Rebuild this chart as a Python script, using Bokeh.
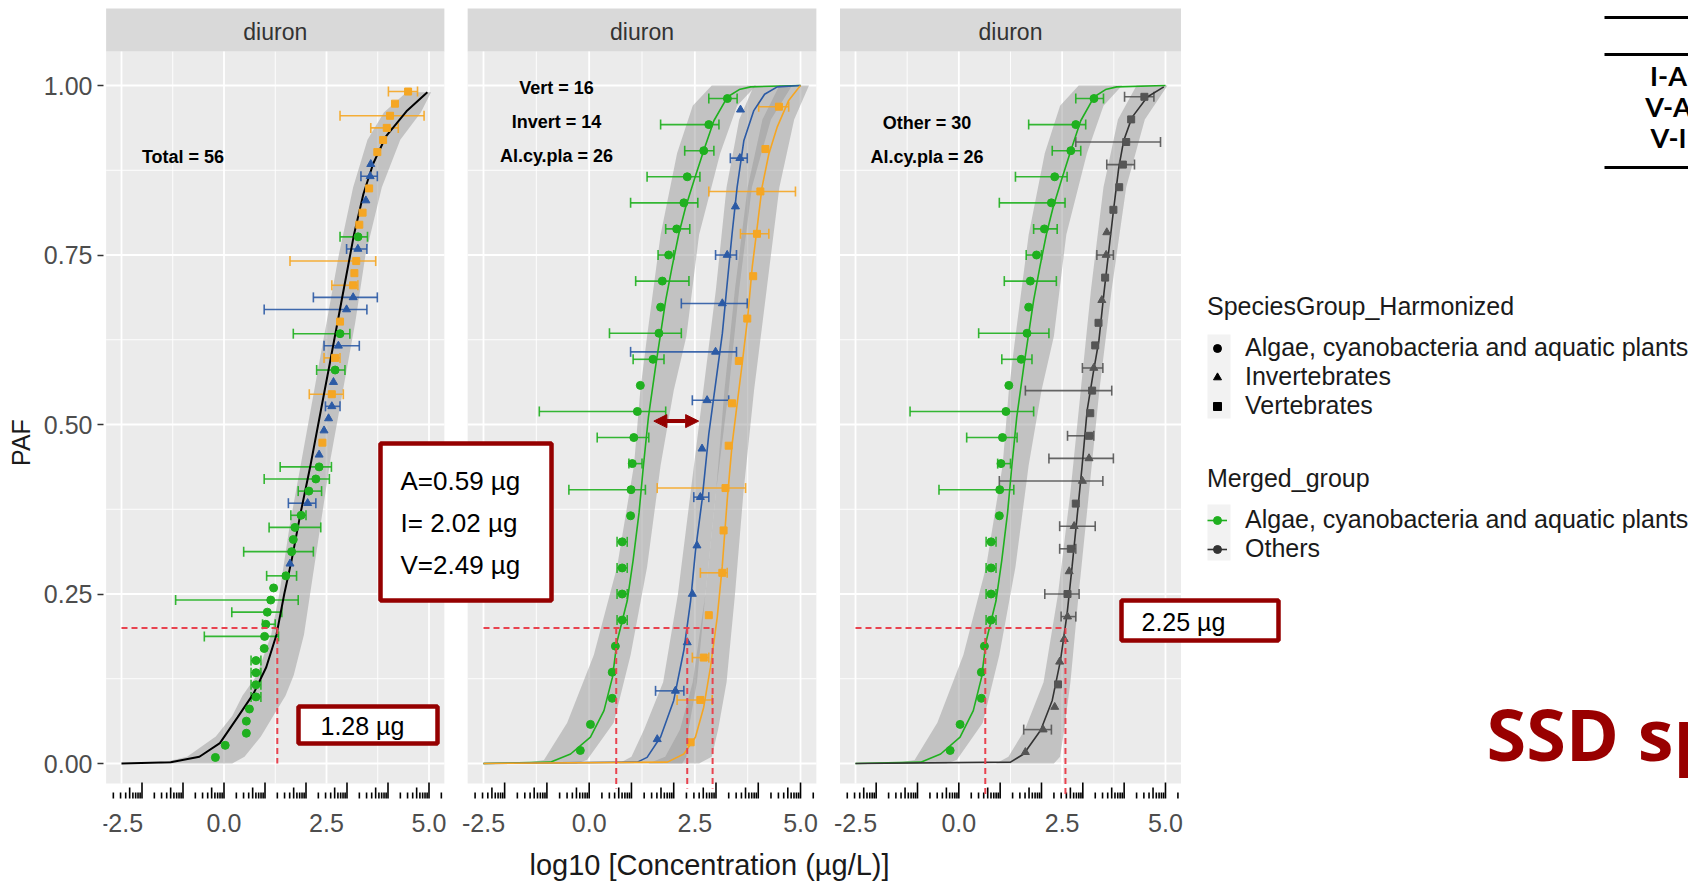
import numpy as np
from bokeh.plotting import figure
from bokeh.models import (Range1d, FixedTicker, NumeralTickFormatter, Legend,
                          LegendItem, Arrow, NormalHead)
from bokeh.embed import file_html
from bokeh.resources import INLINE
from bokeh.core.properties import value

# ------------------------------------------------------------------ data
x_ticks = [-2.5, 0.0, 2.5, 5.0]
x_tick_labels = ["-2.5", "0.0", "2.5", "5.0"]
y_ticks = [0.0, 0.25, 0.5, 0.75, 1.0]
strip_label = "diuron"

# log10 toxicity values (ug/L) with horizontal error bars (None = no bar)
algae_x = [-0.21, 0.03, 0.545, 0.545, 0.62, 0.78, 0.78, 0.78, 0.78, 0.98, 0.99, 1.02, 1.056,
           1.14, 1.21, 1.51, 1.65, 1.69, 1.73, 1.88, 2.07, 2.24, 2.32, 2.71, 2.83, 3.27]
algae_lo = [None, None, None, None, None, 0.66, 0.66, 0.66, 0.66, None, -0.48, 0.94, 0.19,
            -1.18, None, 1.04, 0.48, None, 1.10, 1.63, 1.81, 0.98, 1.37, 2.26, 1.69, 2.83]
algae_hi = [None, None, None, None, None, 0.90, 0.90, 0.90, 0.90, None, 1.33, 1.25, 1.41,
            1.81, None, 1.77, 2.18, None, 2.36, 2.00, 2.38, 2.57, 2.62, 2.95, 3.07, 3.50]

invert_x = [1.61, 2.04, 2.32, 2.44, 2.55, 2.63, 2.67, 2.79, 2.99, 3.15, 3.265, 3.46, 3.565, 3.58]
invert_lo = [None, 1.57, None, None, None, 2.475, None, 2.44, 0.98, 2.18, 2.99, None, 3.34, None]
invert_hi = [None, 2.24, None, None, None, 2.83, None, 3.30, 3.485, 3.74, 3.485, None, 3.74, None]

vert_x = [2.40, 2.63, 2.71, 2.83, 3.15, 3.18, 3.225, 3.30, 3.38, 3.54, 3.74, 3.88, 3.97, 4.05, 4.17, 4.49]
vert_lo = [None, 2.08, 2.44, None, 2.63, None, 1.61, None, None, None, None, None, 3.58, 2.83, None, 4.01]
vert_hi = [None, 2.91, 2.83, None, 3.265, None, 3.70, None, None, None, None, None, 4.25, 4.88, None, 4.72]

# fitted SSD curves
total_curve_x = [-2.5, -1.3, -0.6, -0.1, 0.33, 0.72, 1.03, 1.28, 1.47, 1.65, 1.87, 2.11, 2.36,
                 2.58, 2.86, 3.17, 3.40, 3.64, 3.95, 4.45, 4.96]
total_curve_y = [0.0, 0.002, 0.01, 0.03, 0.068, 0.103, 0.142, 0.19, 0.25, 0.30, 0.37, 0.44, 0.52,
                 0.59, 0.68, 0.78, 0.84, 0.885, 0.925, 0.962, 0.99]
total_band_y = [0.0, 0.01, 0.04, 0.07, 0.10, 0.13, 0.19, 0.25, 0.35, 0.45, 0.55, 0.65, 0.75,
                0.85, 0.92, 0.96, 0.99]
total_band_lo = [-1.6, -0.9, -0.2, 0.2, 0.45, 0.8, 1.15, 1.35, 1.6, 1.9, 2.2, 2.5, 2.8,
                 3.15, 3.5, 3.9, 4.45]
total_band_hi = [0.2, 0.5, 0.9, 1.2, 1.5, 1.7, 1.95, 2.1, 2.35, 2.6, 2.9, 3.2, 3.45,
                 3.85, 4.3, 4.8, 5.05]

algae_curve_x = [-2.5, -0.92, -0.44, 0.03, 0.35, 0.55, 0.66, 0.90, 1.04, 1.18, 1.28, 1.40,
                 1.57, 1.69, 1.81, 1.96, 2.12, 2.28, 2.48, 2.71, 2.95, 3.27, 3.55, 3.82, 5.0]
algae_curve_y = [0.0, 0.002, 0.014, 0.039, 0.078, 0.127, 0.18, 0.24, 0.30, 0.37, 0.437, 0.51,
                 0.585, 0.634, 0.683, 0.732, 0.781, 0.82, 0.86, 0.904, 0.948, 0.983, 0.994,
                 0.998, 1.0]
algae_band_y = [0.0, 0.005, 0.06, 0.16, 0.29, 0.44, 0.55, 0.63, 0.78, 0.90, 0.97, 1.0]
algae_band_lo = [-1.6, -1.07, -0.52, 0.11, 0.66, 1.06, 1.21, 1.37, 1.69, 2.08, 2.45, 2.9]
algae_band_hi = [-0.3, -0.05, 0.58, 0.98, 1.37, 1.69, 2.0, 2.3, 2.6, 3.1, 3.5, 3.95]

invert_curve_x = [-2.5, 1.14, 1.37, 1.69, 2.0, 2.24, 2.40, 2.515, 2.67, 2.83, 2.99, 3.15,
                  3.265, 3.38, 3.50, 3.66, 3.895, 4.15, 4.45, 5.0]
invert_curve_y = [0.0, 0.002, 0.009, 0.039, 0.093, 0.167, 0.24, 0.314, 0.388, 0.486, 0.56,
                  0.634, 0.708, 0.781, 0.85, 0.919, 0.963, 0.987, 0.998, 1.0]
invert_band_y = [0.0, 0.01, 0.05, 0.12, 0.25, 0.4, 0.55, 0.7, 0.85, 0.95, 1.0]
invert_band_lo = [0.7, 1.0, 1.3, 1.75, 2.1, 2.4, 2.7, 3.0, 3.25, 3.55, 3.9]
invert_band_hi = [2.2, 2.3, 2.35, 2.55, 2.75, 3.0, 3.3, 3.55, 3.85, 4.3, 4.8]

vert_curve_x = [-2.5, 1.85, 2.24, 2.515, 2.71, 2.87, 3.03, 3.147, 3.265, 3.38, 3.50, 3.62,
                3.75, 3.857, 3.975, 4.09, 4.25, 4.45, 4.72, 4.96, 5.0]
vert_curve_y = [0.0, 0.002, 0.014, 0.039, 0.083, 0.142, 0.216, 0.29, 0.388, 0.47, 0.53, 0.59,
                0.658, 0.732, 0.791, 0.85, 0.899, 0.939, 0.978, 0.997, 1.0]
vert_band_y = [0.0, 0.01, 0.05, 0.12, 0.25, 0.4, 0.55, 0.7, 0.85, 0.95, 1.0]
vert_band_lo = [1.4, 1.8, 2.15, 2.45, 2.75, 3.0, 3.2, 3.45, 3.75, 4.1, 4.5]
vert_band_hi = [2.6, 2.9, 3.05, 3.25, 3.45, 3.65, 3.9, 4.2, 4.5, 4.85, 5.2]

others_curve_x = [-2.5, 1.25, 1.57, 1.98, 2.26, 2.46, 2.62, 2.74, 2.86, 2.98, 3.105, 3.25,
                  3.39, 3.51, 3.63, 3.75, 3.87, 3.99, 4.19, 4.56, 4.96]
others_curve_y = [0.0, 0.002, 0.014, 0.049, 0.093, 0.152, 0.221, 0.29, 0.363, 0.437, 0.521,
                  0.575, 0.624, 0.693, 0.757, 0.82, 0.879, 0.919, 0.953, 0.983, 0.998]
others_band_y = [0.0, 0.01, 0.05, 0.12, 0.25, 0.4, 0.55, 0.7, 0.85, 0.95, 1.0]
others_band_lo = [0.9, 1.2, 1.6, 2.05, 2.4, 2.7, 2.95, 3.2, 3.5, 3.85, 4.3]
others_band_hi = [2.3, 2.45, 2.55, 2.7, 2.9, 3.15, 3.4, 3.7, 4.05, 4.5, 5.05]

paf_level = 0.2
hc20_total = [1.30]
hc20_groups = [0.64, 2.32, 2.92]
hc20_merged = [0.64, 2.58]
arrow_x = [1.53, 2.59]
arrow_y = 0.505

box_groups_text = ["A=0.59 \u00b5g", "I= 2.02 \u00b5g", "V=2.49 \u00b5g"]
box_total_text = "1.28 \u00b5g"
box_merged_text = "2.25 \u00b5g"
table_rows = ["I-A", "V-A", "V-I"]

# ------------------------------------------------------------------ style / layout
GREEN, BLUE, ORANGE, OTHER = "#1fb01f", "#2b5aa5", "#f5a623", "#555555"
DARKRED = "#950000"
REDDASH = "#e8434f"
FONT = "Liberation Sans"
W, H = 1688, 884
FRAME_L = 103
FRAME_W = W - FRAME_L
Y0_PX, Y_PPU = 763.0, 678.0
NAN = float("nan")


def py(pix):
    return (Y0_PX - pix) / Y_PPU


def xrange_for(px_first, ppu):
    start = x_ticks[0] - (px_first - FRAME_L) / ppu
    return Range1d(start, start + FRAME_W / ppu)


panels = {"default": (121.0, 41.0), "p2": (483.0, 42.27), "p3": (855.0, 41.33)}

p = figure(width=W, height=H, x_range=xrange_for(*panels["default"]),
           y_range=Range1d(py(H), py(0)), x_axis_location=None, y_axis_location="left",
           output_backend="svg", toolbar_location=None,
           min_border_left=FRAME_L, min_border_right=0, min_border_top=0, min_border_bottom=0,
           outline_line_color=None, background_fill_color="white", border_fill_color="white")
p.extra_x_ranges = {"p2": xrange_for(*panels["p2"]), "p3": xrange_for(*panels["p3"]),
                    "px": Range1d(FRAME_L, W)}
p.extra_y_ranges = {"px": Range1d(H, 0)}
p.grid.visible = False

ax = p.yaxis[0]
ax.ticker = FixedTicker(ticks=y_ticks)
ax.formatter = NumeralTickFormatter(format="0.00")
ax.axis_label = "PAF"
ax.axis_label_text_font = FONT
ax.axis_label_text_font_size = "25px"
ax.axis_label_text_font_style = "normal"
ax.axis_label_text_color = "#1a1a1a"
ax.axis_label_standoff = 6
ax.major_label_text_font = FONT
ax.major_label_text_font_size = "25px"
ax.major_label_text_color = "#4d4d4d"
ax.major_label_standoff = 5
ax.major_tick_out = 6
ax.major_tick_in = 0
ax.major_tick_line_color = "#333333"
ax.major_tick_line_width = 1.5
ax.minor_tick_out = 0
ax.minor_tick_in = 0
ax.axis_line_color = None

span = x_ticks[-1] - x_ticks[0]
X_LO, X_HI = x_ticks[0] - 0.05 * span, x_ticks[-1] + 0.05 * span
Y_TOP = y_ticks[-1] + 0.05 * (y_ticks[-1] - y_ticks[0])
PANEL_BOTTOM = py(783)
TICK_BASE = py(798)
x_minor = [(a + b) / 2 for a, b in zip(x_ticks[:-1], x_ticks[1:])]
y_minor = [(a + b) / 2 for a, b in zip(y_ticks[:-1], y_ticks[1:])]


def panel_frame(r):
    p.quad(left=[X_LO], right=[X_HI], bottom=[PANEL_BOTTOM], top=[Y_TOP],
           fill_color="#ebebeb", line_color=None, x_range_name=r)
    p.quad(left=[X_LO], right=[X_HI], bottom=[Y_TOP], top=[py(8)],
           fill_color="#d9d9d9", line_color=None, x_range_name=r)
    p.text(x=[(X_LO + X_HI) / 2], y=[py(31)], text=[strip_label], text_font=value(FONT),
           text_font_size="23px", text_color="#333333", text_align="center",
           text_baseline="middle", x_range_name=r)
    # grid
    p.segment(x0=x_minor, y0=[PANEL_BOTTOM] * len(x_minor), x1=x_minor, y1=[Y_TOP] * len(x_minor),
              line_color="white", line_width=0.9, x_range_name=r)
    p.segment(x0=[X_LO] * len(y_minor), y0=y_minor, x1=[X_HI] * len(y_minor), y1=y_minor,
              line_color="white", line_width=0.9, x_range_name=r)
    p.segment(x0=x_ticks, y0=[PANEL_BOTTOM] * len(x_ticks), x1=x_ticks, y1=[Y_TOP] * len(x_ticks),
              line_color="white", line_width=1.8, x_range_name=r)
    p.segment(x0=[X_LO] * len(y_ticks), y0=y_ticks, x1=[X_HI] * len(y_ticks), y1=y_ticks,
              line_color="white", line_width=1.8, x_range_name=r)
    # log ticks below the panel
    lx, ly0, ly1 = [], [], []
    for d in range(int(np.floor(X_LO)), int(np.ceil(X_HI)) + 1):
        for k in range(1, 10):
            v = d + np.log10(k)
            if X_LO <= v <= X_HI:
                ln = 16 if k == 1 else (11 if k == 5 else 6)
                lx.append(v)
                ly0.append(TICK_BASE)
                ly1.append(TICK_BASE + ln / Y_PPU)
    p.segment(x0=lx, y0=ly0, x1=lx, y1=ly1, line_color="black", line_width=1.6, x_range_name=r)
    # x tick labels
    p.text(x=x_ticks, y=[py(822)] * len(x_ticks), text=x_tick_labels, text_font=value(FONT),
           text_font_size="25px", text_color="#4d4d4d", text_align="center",
           text_baseline="middle", x_range_name=r)


def rank_y(xs):
    order = sorted(range(len(xs)), key=lambda i: xs[i])
    out = [0.0] * len(xs)
    for rnk, i in enumerate(order):
        out[i] = (rnk + 0.5) / len(xs)
    return out


def band(lo, hi, yy, r):
    p.harea(x1=lo, x2=hi, y=yy, fill_color="#9a9a9a", fill_alpha=0.5, x_range_name=r)


def errbars(lo, hi, yy, color, r):
    sel = [i for i in range(len(yy)) if lo[i] is not None]
    if not sel:
        return
    l = [lo[i] for i in sel]
    h = [hi[i] for i in sel]
    y = [yy[i] for i in sel]
    cap = 5 / Y_PPU
    p.segment(x0=l, y0=y, x1=h, y1=y, line_color=color, line_width=1.6, line_alpha=0.9,
              x_range_name=r)
    p.segment(x0=l, y0=[v - cap for v in y], x1=l, y1=[v + cap for v in y], line_color=color,
              line_width=1.6, line_alpha=0.9, x_range_name=r)
    p.segment(x0=h, y0=[v - cap for v in y], x1=h, y1=[v + cap for v in y], line_color=color,
              line_width=1.6, line_alpha=0.9, x_range_name=r)


def points(xs, yy, color, marker, r):
    return p.scatter(x=xs, y=yy, marker=marker, size=8 if marker != "square" else 7,
                     fill_color=color, line_color=color, x_range_name=r)


def hc_lines(vals, bottom, r):
    p.segment(x0=[x_ticks[0]], y0=[paf_level], x1=[max(vals)], y1=[paf_level],
              line_color=REDDASH, line_width=2, line_dash="6 4", x_range_name=r)
    p.segment(x0=vals, y0=[paf_level] * len(vals), x1=vals, y1=[bottom] * len(vals),
              line_color=REDDASH, line_width=2, line_dash="6 4", x_range_name=r)


def note(lines, x_px, ys_px, r, ppu, first):
    xd = x_ticks[0] + (x_px - first) / ppu
    p.text(x=[xd] * len(lines), y=[py(v) for v in ys_px], text=lines, text_font=value(FONT),
           text_font_size="18px", text_font_style="bold", text_color="black",
           text_align="center", text_baseline="middle", x_range_name=r)


for r in panels:
    panel_frame(r)

groups = [(algae_x, algae_lo, algae_hi, GREEN, "circle"),
          (invert_x, invert_lo, invert_hi, BLUE, "triangle"),
          (vert_x, vert_lo, vert_hi, ORANGE, "square")]

# ---------------- panel 1: all species
all_x = algae_x + invert_x + vert_x
all_y = rank_y(all_x)
band(total_band_lo, total_band_hi, total_band_y, "default")
off = 0
for xs, lo, hi, col, mk in groups:
    errbars(lo, hi, all_y[off:off + len(xs)], col, "default")
    off += len(xs)
p.line(total_curve_x, total_curve_y, line_color="black", line_width=2, x_range_name="default")
off = 0
for xs, lo, hi, col, mk in groups:
    points(xs, all_y[off:off + len(xs)], col, mk, "default")
    off += len(xs)
hc_lines(hc20_total, 0.0, "default")
note([f"Total = {len(all_x)}"], 182.5, [156.5], "default", 41.0, 121.0)

# ---------------- panel 2: three groups
band(algae_band_lo, algae_band_hi, algae_band_y, "p2")
band(invert_band_lo, invert_band_hi, invert_band_y, "p2")
band(vert_band_lo, vert_band_hi, vert_band_y, "p2")
for xs, lo, hi, col, mk in groups:
    errbars(lo, hi, rank_y(xs), col, "p2")
p.line(algae_curve_x, algae_curve_y, line_color=GREEN, line_width=1.6, x_range_name="p2")
p.line(invert_curve_x, invert_curve_y, line_color=BLUE, line_width=1.6, x_range_name="p2")
p.line(vert_curve_x, vert_curve_y, line_color=ORANGE, line_width=1.6, x_range_name="p2")
for xs, lo, hi, col, mk in groups:
    points(xs, rank_y(xs), col, mk, "p2")
hc_lines(hc20_groups, py(788), "p2")
note([f"Vert = {len(vert_x)}", f"Invert = {len(invert_x)}", f"Al.cy.pla = {len(algae_x)}"],
     556.0, [87, 121, 155], "p2", 42.27, 483.0)
p.add_layout(Arrow(start=NormalHead(size=13, fill_color=DARKRED, line_color=DARKRED),
                   end=NormalHead(size=13, fill_color=DARKRED, line_color=DARKRED),
                   x_start=arrow_x[0], y_start=arrow_y, x_end=arrow_x[1], y_end=arrow_y,
                   line_color=DARKRED, line_width=4, x_range_name="p2"))

# ---------------- panel 3: algae vs others
oth_x = invert_x + vert_x
oth_lo = invert_lo + vert_lo
oth_hi = invert_hi + vert_hi
oth_y = rank_y(oth_x)
band(algae_band_lo, algae_band_hi, algae_band_y, "p3")
band(others_band_lo, others_band_hi, others_band_y, "p3")
errbars(algae_lo, algae_hi, rank_y(algae_x), GREEN, "p3")
errbars(oth_lo, oth_hi, oth_y, OTHER, "p3")
p.line(algae_curve_x, algae_curve_y, line_color=GREEN, line_width=1.6, x_range_name="p3")
p.line(others_curve_x, others_curve_y, line_color="#333333", line_width=1.6, x_range_name="p3")
points(algae_x, rank_y(algae_x), GREEN, "circle", "p3")
points(invert_x, oth_y[:len(invert_x)], OTHER, "triangle", "p3")
points(vert_x, oth_y[len(invert_x):], OTHER, "square", "p3")
hc_lines(hc20_merged, py(797), "p3")
note(["Other = %d" % len(oth_x), f"Al.cy.pla = {len(algae_x)}"], 926.5, [122, 156], "p3",
     41.33, 855.0)

# ---------------- overlay annotations (canvas pixel coordinates)
PX = dict(x_range_name="px", y_range_name="px")
p.text(x=[709], y=[864], text=["log10 [Concentration (\u00b5g/L)]"], text_font=value(FONT),
       text_font_size="29px", text_color="#1a1a1a", text_align="center",
       text_baseline="middle", **PX)


def redbox(l, r_, t, b):
    p.quad(left=[l], right=[r_], top=[t], bottom=[b], fill_color="white",
           line_color=DARKRED, line_width=4.5, **PX)


redbox(380, 551, 443, 600)
p.text(x=[400] * 3, y=[480, 522, 564], text=box_groups_text, text_font=value(FONT),
       text_font_size="26px", text_color="black", text_baseline="middle", **PX)
redbox(298, 437, 706, 743)
p.text(x=[320], y=[725], text=[box_total_text], text_font=value(FONT),
       text_font_size="25px", text_color="black", text_baseline="middle", **PX)
redbox(1121, 1278, 600, 640)
p.text(x=[1141], y=[621], text=[box_merged_text], text_font=value(FONT),
       text_font_size="25px", text_color="black", text_baseline="middle", **PX)

p.text(x=[1486], y=[732], text=["SSD sp"], text_font=value("Open Sans"),
       text_font_size="72px", text_font_style="bold", text_color="#990000",
       text_baseline="alphabetic", **PX)

p.segment(x0=[1604] * 3, y0=[17, 54, 167], x1=[W] * 3, y1=[17, 54, 167],
          line_color="black", line_width=3, **PX)
p.text(x=[1668] * 3, y=[75, 106, 137], text=table_rows, text_font=value("Lato"),
       text_font_size="27px", text_font_style="bold", text_color="black",
       text_align="center", text_baseline="middle", **PX)

# legend key backgrounds
p.quad(left=[1207, 1207], right=[1230, 1230], top=[334, 504], bottom=[418, 560],
       fill_color="#f2f2f2", line_color=None, **PX)

# key-only renderers for the legends (no visible data)
d_c = p.scatter(x=[NAN], y=[NAN], marker="circle", size=7, color="black")
d_t = p.scatter(x=[NAN], y=[NAN], marker="triangle", size=7, color="black")
d_s = p.scatter(x=[NAN], y=[NAN], marker="square", size=6, color="black")
d_gl = p.line(x=[NAN, NAN], y=[NAN, NAN], line_color=GREEN, line_width=1.6)
d_gp = p.scatter(x=[NAN], y=[NAN], marker="circle", size=6, color=GREEN)
d_ol = p.line(x=[NAN, NAN], y=[NAN, NAN], line_color="#333333", line_width=1.6)
d_op = p.scatter(x=[NAN], y=[NAN], marker="circle", size=6, color="#333333")

leg_common = dict(label_text_font=FONT, label_text_font_size="25px", label_text_color="#1a1a1a",
                  title_text_font=FONT, title_text_font_size="25px", title_text_font_style="normal",
                  title_text_color="#1a1a1a", label_height=28, glyph_height=20, glyph_width=20,
                  label_standoff=18, spacing=0, padding=0, margin=0, border_line_alpha=0,
                  background_fill_alpha=0, title_standoff=12)
leg1 = Legend(items=[LegendItem(label="Algae, cyanobacteria and aquatic plants", renderers=[d_c]),
                     LegendItem(label="Invertebrates", renderers=[d_t]),
                     LegendItem(label="Vertebrates", renderers=[d_s])],
              title="SpeciesGroup_Harmonized", location=(1104, 464), **leg_common)
leg2 = Legend(items=[LegendItem(label="Algae, cyanobacteria and aquatic plants", renderers=[d_gl, d_gp]),
                     LegendItem(label="Others", renderers=[d_ol, d_op])],
              title="Merged_group", location=(1104, 321), **leg_common)
p.add_layout(leg1)
p.add_layout(leg2)

open("out.html", "w").write(file_html(p, INLINE))
